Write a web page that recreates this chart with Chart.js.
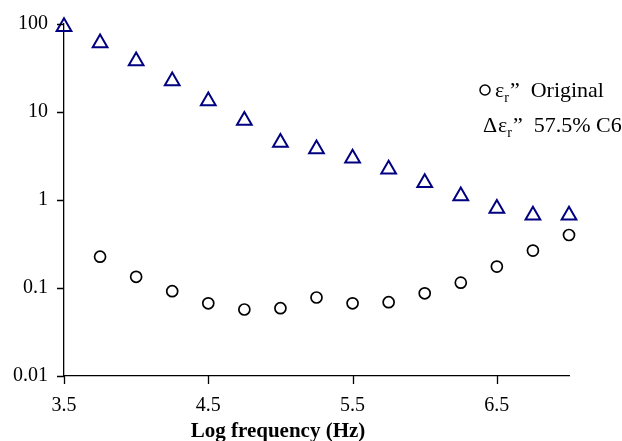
<!DOCTYPE html>
<html><head><meta charset="utf-8">
<script src="https://cdn.jsdelivr.net/npm/chart.js@4.4.1/dist/chart.umd.min.js"></script>
<style>html,body{margin:0;padding:0;background:#fff}#wrap{width:622px;height:441px}</style>
</head><body><div id="wrap"><canvas id="c" width="622" height="441"></canvas></div>
<script>
const logFrequency = [3.5, 3.75, 4.0, 4.25, 4.5, 4.75, 5.0, 5.25, 5.5, 5.75, 6.0, 6.25, 6.5, 6.75, 7.0];
const epsOriginal = [null, 0.227, 0.134, 0.092, 0.067, 0.057, 0.059, 0.078, 0.067, 0.069, 0.087, 0.115, 0.175, 0.266, 0.40];
const eps575C6 = [93, 61, 38, 22.5, 13.3, 8.0, 4.5, 3.8, 2.98, 2.23, 1.57, 1.11, 0.80, 0.67, 0.67];
const xTickValues = [3.5, 4.5, 5.5, 6.5];
const xTickLabels = ['3.5', '4.5', '5.5', '6.5'];
const yTickValues = [0.01, 0.1, 1, 10, 100];
const yTickLabels = ['0.01', '0.1', '1', '10', '100'];
const seriesNames = ['Original', '57.5% C6'];
const xTitle = 'Log frequency (Hz)';

const toPts = (ys) => logFrequency.map((x, i) => ({x: x, y: ys[i]})).filter(p => p.y !== null);

const SERIF = '"Liberation Serif", "Times New Roman", serif';

const decorPlugin = {
  id: 'decor',
  afterDraw(chart) {
    const ctx = chart.ctx;
    const xs = chart.scales.x, ys = chart.scales.y;
    const area = chart.chartArea;
    ctx.save();
    ctx.fillStyle = '#000';
    ctx.strokeStyle = '#000';
    // tick marks via scales
    ctx.lineWidth = 1.3;
    ctx.beginPath();
    yTickValues.forEach(v => {
      const py = Math.round(ys.getPixelForValue(v)) + 0.5;
      ctx.moveTo(area.left - 7, py);
      ctx.lineTo(area.left, py);
    });
    xTickValues.forEach(v => {
      const px = Math.round(xs.getPixelForValue(v)) + 0.5;
      ctx.moveTo(px, area.bottom);
      ctx.lineTo(px, area.bottom + 8);
    });
    ctx.stroke();

    // legend
    const lines = [
      {marker: 'circle', mx: 485, base: 97, tx: 495, name: seriesNames[0]},
      {marker: 'tri', mx: 483, base: 132, tx: 498, name: seriesNames[1]}
    ];
    lines.forEach(l => {
      if (l.marker === 'circle') {
        ctx.lineWidth = 1.5;
        ctx.beginPath();
        ctx.arc(l.mx, l.base - 7, 5, 0, Math.PI * 2);
        ctx.stroke();
      } else {
        ctx.font = '22px ' + SERIF;
        ctx.textBaseline = 'alphabetic';
        ctx.textAlign = 'left';
        ctx.fillText('\u0394', l.mx, l.base);
      }
      let x = l.tx;
      ctx.font = '22px ' + SERIF;
      ctx.textAlign = 'left';
      ctx.textBaseline = 'alphabetic';
      ctx.fillText('\u03b5', x, l.base);
      x += ctx.measureText('\u03b5').width;
      ctx.font = '14px ' + SERIF;
      ctx.fillText('r', x, l.base + 5);
      x += ctx.measureText('r').width + 1;
      ctx.font = '22px ' + SERIF;
      ctx.fillText('\u201d  ' + l.name, x, l.base);
    });
    // x axis title
    ctx.font = 'bold 21px ' + SERIF;
    ctx.textAlign = 'center';
    ctx.textBaseline = 'alphabetic';
    ctx.fillText(xTitle, 278, 437);
    ctx.restore();
  }
};

new Chart(document.getElementById('c'), {
  type: 'scatter',
  data: {
    datasets: [
      {
        label: seriesNames[0],
        data: toPts(epsOriginal),
        pointStyle: 'circle',
        pointRadius: 5.5,
        pointHoverRadius: 5.5,
        borderColor: '#000000',
        backgroundColor: 'rgba(255,255,255,0)',
        pointBorderWidth: 1.7,
        showLine: false,
        clip: false
      },
      {
        label: seriesNames[1],
        data: toPts(eps575C6),
        pointStyle: 'triangle',
        pointRadius: 8.5,
        pointHoverRadius: 8.5,
        borderColor: '#000080',
        backgroundColor: 'rgba(255,255,255,0)',
        pointBorderWidth: 2,
        showLine: false,
        clip: false
      }
    ]
  },
  options: {
    responsive: false,
    animation: false,
    layout: {padding: {top: 24, right: 53, left: 0, bottom: 0}},
    plugins: {legend: {display: false}, tooltip: {enabled: false}},
    scales: {
      x: {
        type: 'linear',
        min: 3.5,
        max: 7.0,
        afterBuildTicks: (s) => { s.ticks = xTickValues.map(v => ({value: v})); },
        afterFit: (s) => { s.height = 65; },
        ticks: {
          callback: (v) => { const i = xTickValues.indexOf(v); return i >= 0 ? xTickLabels[i] : ''; },
          color: '#000', font: {family: SERIF, size: 20}, padding: 10, maxRotation: 0, autoSkip: false
        },
        grid: {display: false, drawOnChartArea: false, drawTicks: true, tickLength: 8},
        border: {display: true, color: '#000', width: 1.3}
      },
      y: {
        type: 'logarithmic',
        min: 0.01,
        max: 100,
        afterBuildTicks: (s) => { s.ticks = yTickValues.map(v => ({value: v, major: true})); },
        afterFit: (s) => { s.width = 64; },
        ticks: {
          callback: (v) => { const i = yTickValues.indexOf(v); return i >= 0 ? yTickLabels[i] : ''; },
          color: '#000', font: {family: SERIF, size: 20}, padding: 8, autoSkip: false
        },
        grid: {display: false, drawOnChartArea: false, drawTicks: true, tickLength: 8},
        border: {display: true, color: '#000', width: 1.3}
      }
    }
  },
  plugins: [decorPlugin]
});
</script>
</body></html>
